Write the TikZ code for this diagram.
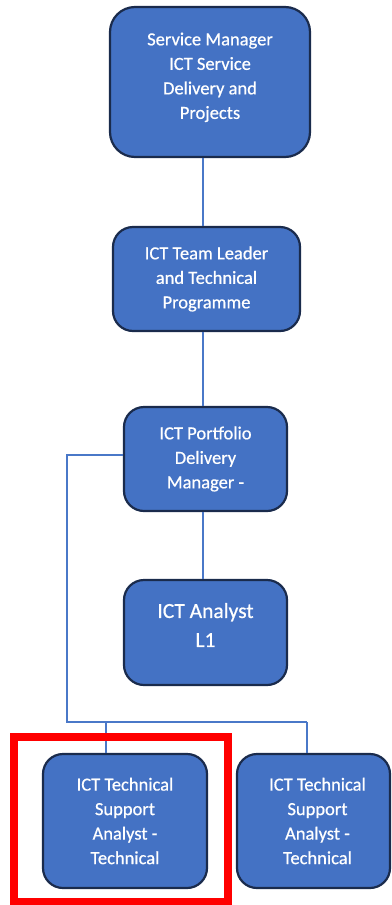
\documentclass[tikz,border=0pt]{standalone}
\usepackage{fontspec}
\setmainfont[FakeBold=0.6]{Carlito}
\definecolor{boxfill}{HTML}{4472C4}
\definecolor{boxedge}{HTML}{1A2B4C}
\definecolor{connblue}{HTML}{4A78C8}
\definecolor{hilite}{HTML}{FF0000}
\tikzset{
  orgbox/.style={draw=boxedge, line width=2.2pt, fill=boxfill, rounded corners=20pt,
    text=white, align=center, inner sep=0pt,
    font=\fontsize{18.5}{24.5}\selectfont},
  conn/.style={draw=connblue, line width=1.4pt},
}
\begin{document}
\begin{tikzpicture}[x=1pt,y=-1pt]
\useasboundingbox (0,0) rectangle (391,905);
\node[orgbox, rounded corners=25pt, minimum width=200pt, minimum height=150pt] (b1) at (210,82)
  {Service Manager\\ICT Service\\Delivery and\\Projects\\[-12pt]\mbox{}};
\node[orgbox, minimum width=187pt, minimum height=104pt] (b2) at (206.5,279)
  {ICT Team Leader\\and Technical\\Programme};
\node[orgbox, minimum width=163pt, minimum height=104pt] (b3) at (205.5,459)
  {ICT Portfolio\\Delivery\\Manager -};
\node[orgbox, minimum width=163pt, minimum height=105pt, font=\fontsize{21.5}{29}\selectfont] (b4) at (205.5,632.5)
  {ICT Analyst\\L1\\[-14pt]\mbox{}};
\node[orgbox, minimum width=164pt, minimum height=134pt] (b5) at (125,821)
  {ICT Technical\\Support\\Analyst -\\Technical};
\node[orgbox, minimum width=153pt, minimum height=134pt] (b6) at (313.5,821)
  {\hspace*{8pt}ICT Technical\\\hspace*{8pt}Support\\\hspace*{8pt}Analyst -\\\hspace*{8pt}Technical};
\coordinate (spine) at (203,0);
\coordinate (tl) at (67,455);
\coordinate (bl) at (67,722);
\coordinate (j5) at (106,722);
\coordinate (j6) at (307,722);
\draw[conn] (b1.south -| spine) -- (b2.north -| spine);
\draw[conn] (b2.south -| spine) -- (b3.north -| spine);
\draw[conn] (b3.south -| spine) -- (b4.north -| spine);
\draw[conn] (b3.west |- tl) -- (tl) -- (bl) -- (j6);
\draw[conn] (j5) -- (j5 |- b5.north);
\draw[conn] (j6) -- (j6 |- b6.north);
\draw[hilite, line width=8pt] (14,737) rectangle (228,902);
\end{tikzpicture}
\end{document}
